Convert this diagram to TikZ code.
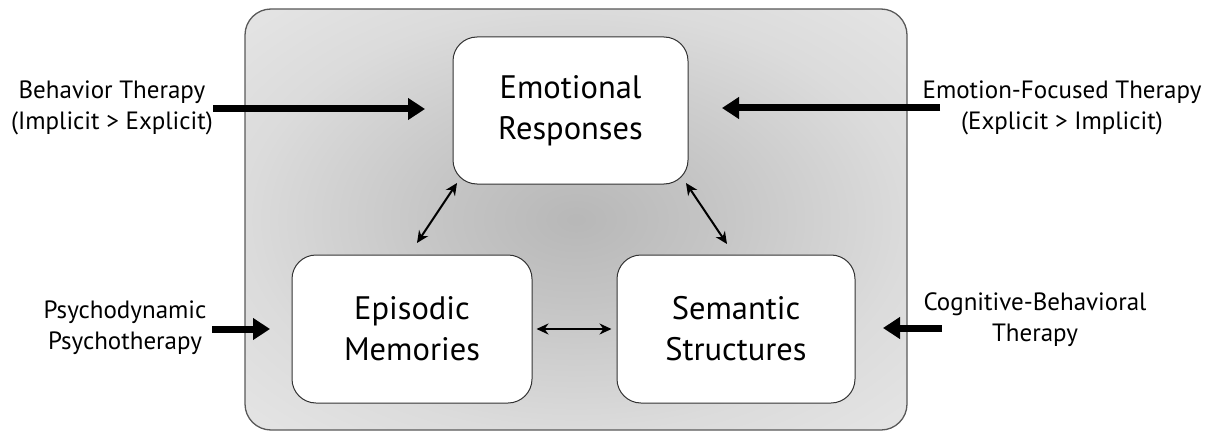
\documentclass[tikz,border=0pt]{standalone}
\usepackage{fontspec}
\setmainfont{PT Sans}
\usetikzlibrary{arrows.meta}
\pgfdeclareradialshading{bgshade}{\pgfpoint{0bp}{0bp}}{color(0bp)=(black!28); color(10bp)=(black!23); color(25bp)=(black!14); color(45bp)=(black!7); color(72bp)=(black!3)}
\tikzset{
  outerbox/.style={draw=black!65, line width=1.3pt, rounded corners=26pt, shading=bgshade, inner sep=0pt},
  cbox/.style={draw=black!80, line width=1pt, fill=white, rounded corners=24pt, inner sep=0pt, align=center,
    font=\fontsize{32.5}{41}\selectfont},
  side/.style={align=center, inner sep=0pt, font=\fontsize{25}{31}\selectfont},
  bigarrow/.style={line width=7pt, -{Triangle[length=17pt,width=21pt]}},
  dbl/.style={line width=2pt, {Stealth[length=12pt,width=11pt]}-{Stealth[length=12pt,width=11pt]}}
}
\begin{document}
\begin{tikzpicture}[x=1pt,y=-1pt]
\useasboundingbox (0,0) rectangle (1212,433);
\node[outerbox, minimum width=662pt, minimum height=421pt] (bg) at (576,219.5) {};
\node[cbox, minimum width=235pt, minimum height=147pt] (er) at (570.5,110.5) {Emotional\\Responses};
\node[cbox, minimum width=240pt, minimum height=148pt] (em) at (412,329) {Episodic\\Memories};
\node[cbox, minimum width=238pt, minimum height=148pt] (ss) at (736,329) {Semantic\\Structures};
\node[side] (bt) at (112,108) {Behavior Therapy\\(Implicit > Explicit)};
\node[side] (eft) at (1062,108) {Emotion-Focused Therapy\\(Explicit > Implicit)};
\node[side] (pp) at (125,328) {Psychodynamic\\Psychotherapy};
\node[side] (cbt) at (1035,320) {Cognitive-Behavioral\\Therapy};
\coordinate (bt1) at (213,109); \coordinate (bt2) at (425,109);
\coordinate (eft1) at (940,108); \coordinate (eft2) at (722,108);
\coordinate (pp1) at (212,329); \coordinate (pp2) at (270,329);
\coordinate (cbt1) at (942,328); \coordinate (cbt2) at (883,328);
\draw[bigarrow] (bt1) -- (bt2);
\draw[bigarrow] (eft1) -- (eft2);
\draw[bigarrow] (pp1) -- (pp2);
\draw[bigarrow] (cbt1) -- (cbt2);
\coordinate (d1a) at (417,243); \coordinate (d1b) at (457,183);
\coordinate (d2a) at (686,183); \coordinate (d2b) at (727,244);
\draw[dbl] (d1a) -- (d1b);
\draw[dbl] (d2a) -- (d2b);
\draw[dbl, shorten <=4pt, shorten >=5pt] (em.east) -- (ss.west);
\end{tikzpicture}
\end{document}
